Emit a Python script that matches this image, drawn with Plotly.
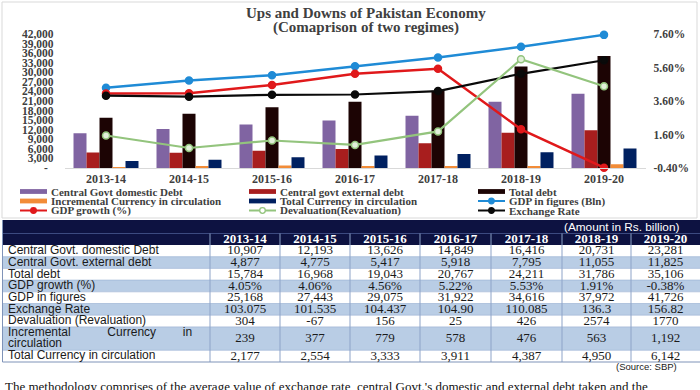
import plotly.graph_objects as go

# ---------------- data ----------------
years = ["2013-14", "2014-15", "2015-16", "2016-17", "2017-18", "2018-19", "2019-20"]
domestic_debt = [10907, 12193, 13626, 14849, 16416, 20731, 23281]
external_debt = [4877, 4775, 5417, 5918, 7795, 11055, 11825]
total_debt = [15784, 16968, 19043, 20767, 24211, 31786, 35106]
gdp_growth = [4.05, 4.06, 4.56, 5.22, 5.53, 1.91, -0.38]
gdp_figures = [25168, 27443, 29075, 31922, 34616, 37972, 41726]
exchange_rate = [103.075, 101.535, 104.437, 104.90, 110.085, 136.3, 156.82]
exchange_rate_labels = ["103.075", "101.535", "104.437", "104.90", "110.085", "136.3", "156.82"]
devaluation = [304, -67, 156, 25, 426, 2574, 1770]
incr_currency = [239, 377, 779, 578, 476, 563, 1192]
total_currency = [2177, 2554, 3333, 3911, 4387, 4950, 6142]

left_ticks = list(range(0, 42001, 3000))
left_ticktext = ["-\u00a0\u00a0"] + [f"{v:,}" for v in left_ticks[1:]]
right_ticks = [-0.4, 1.6, 3.6, 5.6, 7.6]
right_ticktext = ["-0.40%", "1.60%", "3.60%", "5.60%", "7.60%"]

row_labels = ["Central Govt. domestic Debt", "Central Govt. external debt", "Total debt",
              "GDP growth (%)", "GDP in figures", "Exchange Rate",
              "Devaluation (Revaluation)", "Incremental Currency in circulation",
              "Total Currency in circulation"]
table_rows = [
    [f"{v:,}" for v in domestic_debt],
    [f"{v:,}" for v in external_debt],
    [f"{v:,}" for v in total_debt],
    [f"{v:.2f}%" for v in gdp_growth],
    [f"{v:,}" for v in gdp_figures],
    exchange_rate_labels,
    [str(v) for v in devaluation],
    [f"{v:,}" for v in incr_currency],
    [f"{v:,}" for v in total_currency],
]

# ---------------- styles ----------------
W, H = 700, 390
SERIF = "Liberation Serif"
SANS = "Liberation Sans"
GREY = "#404040"
PURPLE = "#8064A2"
DARKRED = "#A81E1E"
TOTALC = "#1C0404"
ORANGE = "#F28C38"
NAVYBAR = "#002060"
BLUE = "#1F8BD6"
RED = "#E0191B"
GREEN = "#93C47D"
BLACK = "#0A0A0A"
NAVY = "#0D1241"
LIGHTROW = "#B9CDE5"

PLOT_L, PLOT_R, PLOT_T, PLOT_B = 64.5, 645.5, 34, 168

fig = go.Figure()

bar_specs = [("Central Govt domestic Debt", domestic_debt, PURPLE),
             ("Central govt external debt", external_debt, DARKRED),
             ("Total debt", total_debt, TOTALC),
             ("Incremental Currency in circulation", incr_currency, ORANGE),
             ("Total Currency in circulation", total_currency, NAVYBAR)]
for name, vals, col in bar_specs:
    fig.add_trace(go.Bar(x=years, y=vals, name=name, marker=dict(color=col, line=dict(width=0)),
                         xaxis="x", yaxis="y", showlegend=False))

line_specs = [("GDP in figures (Bln)", gdp_figures, BLUE, "y", 2.5, BLUE),
              ("GDP growth (%)", gdp_growth, RED, "y2", 2.5, RED),
              ("Exchange Rate", exchange_rate, BLACK, "y3", 2.2, BLACK),
              ("Devaluation(Revaluation)", devaluation, GREEN, "y4", 2.2, "#E2EFDA")]
for name, vals, col, ax, lw, fill in line_specs:
    fig.add_trace(go.Scatter(x=years, y=vals, name=name, mode="lines+markers", xaxis="x", yaxis=ax,
                             line=dict(color=col, width=lw),
                             marker=dict(size=7, color=fill, line=dict(color=col, width=1.5)),
                             cliponaxis=False, showlegend=False))

# ---------------- pixel canvas for table / legend ----------------
shapes = []
annotations = []


def rect(x0, y0, x1, y1, fill, lc=None, lw=0):
    shapes.append(dict(type="rect", xref="x2", yref="y5", x0=x0, y0=y0, x1=x1, y1=y1,
                       fillcolor=fill, line=dict(color=lc or fill, width=lw), layer="below"))


def hline(x0, x1, y, color, w=1):
    shapes.append(dict(type="line", xref="x2", yref="y5", x0=x0, x1=x1, y0=y, y1=y,
                       line=dict(color=color, width=w), layer="below"))


def vline(x, y0, y1, color, w=1):
    shapes.append(dict(type="line", xref="x2", yref="y5", x0=x, x1=x, y0=y0, y1=y1,
                       line=dict(color=color, width=w), layer="below"))


def text(x, y, s, size, color, family, xanchor="left", bold=False):
    annotations.append(dict(xref="x2", yref="y5", x=x, y=y, text=s, showarrow=False,
                            xanchor=xanchor, yanchor="middle",
                            font=dict(size=size, color=color, family=family,
                                      weight="bold" if bold else "normal")))


# chart border
shapes.append(dict(type="rect", xref="x2", yref="y5", x0=2, y0=2, x1=697, y1=218,
                   fillcolor="rgba(0,0,0,0)", line=dict(color="#D9D9D9", width=1), layer="below"))

# title
text(366, 12.5, "Ups and Downs of Pakistan Economy", 15, GREY, SERIF, "center", True)
text(366, 27, "(Comaprison of two regimes)", 15, GREY, SERIF, "center", True)

# legend
legend_items = [("Central Govt domestic Debt", "bar", PURPLE, None),
                ("Central govt external debt", "bar", DARKRED, None),
                ("Total debt", "bar", TOTALC, None),
                ("Incremental Currency in circulation", "bar", ORANGE, None),
                ("Total Currency in circulation", "bar", NAVYBAR, None),
                ("GDP in figures (Bln)", "line", BLUE, BLUE),
                ("GDP growth (%)", "line", RED, RED),
                ("Devaluation(Revaluation)", "line", GREEN, "#FFFFFF"),
                ("Exchange Rate", "line", BLACK, BLACK)]
leg_cols = [20, 249, 478]
leg_rows = [191.5, 201, 210.5]
SYM_W = 27
for i, (name, kind, col, fill) in enumerate(legend_items):
    lx = leg_cols[i % 3]
    ly = leg_rows[i // 3]
    if kind == "bar":
        rect(lx, ly - 2.4, lx + SYM_W, ly + 2.4, col)
    else:
        hline(lx, lx + SYM_W, ly, col, 2)
        cx = lx + SYM_W / 2
        shapes.append(dict(type="circle", xref="x2", yref="y5", x0=cx - 2.8, x1=cx + 2.8,
                           y0=ly - 2.8, y1=ly + 2.8, fillcolor=fill,
                           line=dict(color=col, width=1.3), layer="below"))
    text(lx + SYM_W + 1.5, ly, name, 11, GREY, SERIF, "left", True)

# table geometry
col_edges = [2.5, 210, 280, 350, 420, 491, 562, 631, 700]
BAND_T, BAND_B, HEAD_B = 220, 233.5, 245
ROW_H = 11.7
row_units = [1, 1, 1, 1, 1, 1, 1, 2, 1]
row_tops = [HEAD_B]
for u in row_units:
    row_tops.append(row_tops[-1] + u * ROW_H)
TABLE_B = row_tops[-1]

rect(2, BAND_T, 700, BAND_B, NAVY)
rect(2, BAND_B, 700, HEAD_B, NAVY)
hline(2, 700, BAND_B, "#3C4A80", 1)
for i in range(len(row_units)):
    rect(2.5, row_tops[i], 700, row_tops[i + 1], "#FFFFFF" if i % 2 == 0 else LIGHTROW)
for yb in row_tops[1:-1]:
    hline(2.5, 700, yb, "#9DB4D6", 0.7)
for xe in col_edges[1:-1]:
    vline(xe, BAND_B, TABLE_B, "#8DA3C8", 1)
vline(2.5, BAND_T, TABLE_B, "#7F93B8", 1)
hline(2.5, 700, TABLE_B, "#7F93B8", 1)

text(681, 226.7, "(Amount in Rs. billion)", 11.8, "#FFFFFF", SANS, "right")
text(679, 366, "(Source: SBP)", 9.5, "#1A1A1A", SANS, "right")
text(3, 386, "The methodology comprises of the average value of exchange rate, central Govt.'s domestic and external debt taken and the",
     13, "#111111", SERIF, "left")

col_centers = [(col_edges[j + 1] + col_edges[j + 2]) / 2 for j in range(len(years))]

# header years
fig.add_trace(go.Scatter(x=col_centers, y=[(BAND_B + HEAD_B) / 2 + 0.3] * len(years), text=years,
                         mode="text", textposition="middle center", xaxis="x2", yaxis="y5",
                         textfont=dict(family=SERIF, size=13, color="#FFFFFF", weight="bold"),
                         hoverinfo="skip", showlegend=False, cliponaxis=False))

# row labels
lab_x, lab_y, lab_t = [], [], []
nb = "\u00a0"
for i, lab in enumerate(row_labels):
    yc = (row_tops[i] + row_tops[i + 1]) / 2
    if row_units[i] == 2:
        parts = lab.split(" ")
        first = parts[0] + nb * 11 + parts[1] + nb * 8 + parts[2]
        lab_x += [8, 8]
        lab_y += [yc - ROW_H / 2 + 0.3, yc + ROW_H / 2 - 0.3]
        lab_t += [first, " ".join(parts[3:])]
    else:
        lab_x.append(8)
        lab_y.append(yc + 0.3)
        lab_t.append(lab)
fig.add_trace(go.Scatter(x=lab_x, y=lab_y, text=lab_t, mode="text", textposition="middle right",
                         xaxis="x2", yaxis="y5",
                         textfont=dict(family=SANS, size=12, color="#1A1A1A"),
                         hoverinfo="skip", showlegend=False, cliponaxis=False))

# values
vx, vy, vt = [], [], []
for i, row in enumerate(table_rows):
    yc = (row_tops[i] + row_tops[i + 1]) / 2
    for j, s in enumerate(row):
        vx.append(col_centers[j])
        vy.append(yc + 0.3)
        vt.append(s)
fig.add_trace(go.Scatter(x=vx, y=vy, text=vt, mode="text", textposition="middle center",
                         xaxis="x2", yaxis="y5",
                         textfont=dict(family=SERIF, size=13, color="#1A1A1A"),
                         hoverinfo="skip", showlegend=False, cliponaxis=False))

tickfont = dict(family=SERIF, size=11.5, color=GREY, weight="bold")
catfont = dict(family=SERIF, size=12, color=GREY, weight="bold")
fig.update_layout(
    width=W, height=H,
    margin=dict(l=0, r=0, t=0, b=0),
    paper_bgcolor="#FFFFFF", plot_bgcolor="rgba(0,0,0,0)",
    barmode="group", bargap=0.217, bargroupgap=0,
    showlegend=False,
    xaxis=dict(domain=[PLOT_L / W, PLOT_R / W], type="category", anchor="y", automargin=False,
               showgrid=False, zeroline=False, showline=True, linecolor="#D9D9D9", linewidth=1,
               ticks="", tickfont=catfont, fixedrange=True),
    yaxis=dict(domain=[1 - PLOT_B / H, 1 - PLOT_T / H], range=[0, 42000], anchor="x", automargin=False,
               tickvals=left_ticks, ticktext=left_ticktext, showgrid=False, zeroline=False,
               showline=False, ticks="", tickfont=tickfont, ticklabelstandoff=10, fixedrange=True),
    yaxis2=dict(overlaying="y", side="right", anchor="x", range=[-0.4, 7.6], automargin=False,
                tickvals=right_ticks, ticktext=right_ticktext, showgrid=False, zeroline=False,
                showline=False, ticks="", tickfont=tickfont, ticklabelstandoff=7, fixedrange=True),
    yaxis3=dict(overlaying="y", anchor="x", range=[-6.7, 196.7], visible=False, fixedrange=True),
    yaxis4=dict(overlaying="y", anchor="x", range=[-663, 3327], visible=False, fixedrange=True),
    xaxis2=dict(domain=[0, 1], range=[0, W], anchor="y5", visible=False, fixedrange=True),
    yaxis5=dict(domain=[0, 1], range=[H, 0], anchor="x2", visible=False, fixedrange=True),
    shapes=shapes,
    annotations=annotations,
)

# remove the browser's default 8px page margin so the 700x390 figure fills the window exactly
fig.write_html("out.html", config={"displayModeBar": False},
               post_script="document.body.style.margin='0px';document.body.style.overflow='hidden';")
